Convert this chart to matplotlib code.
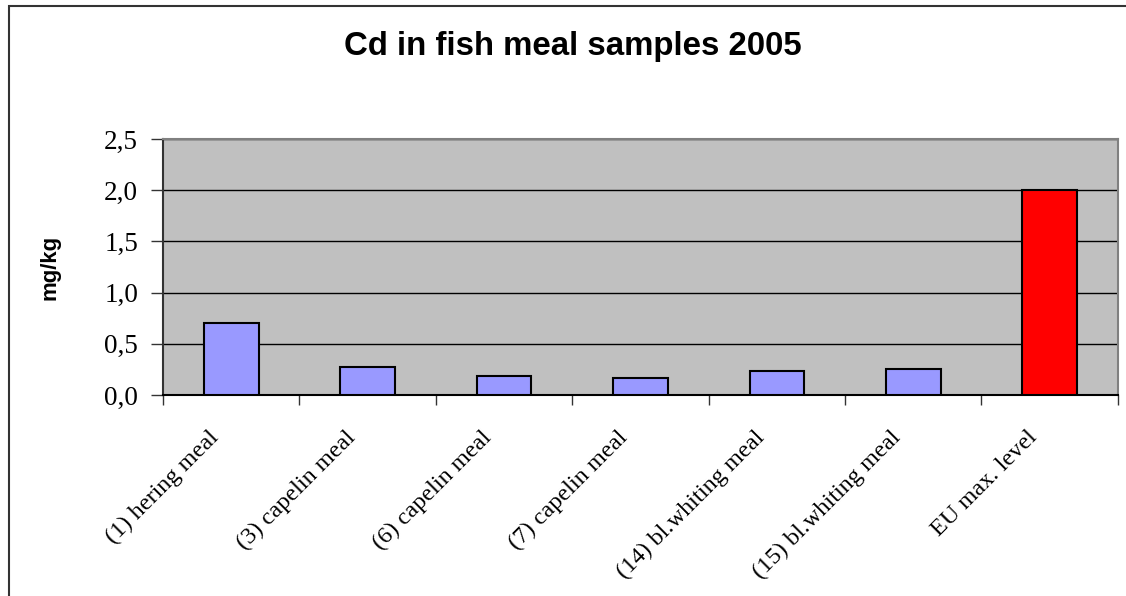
import matplotlib.pyplot as plt
from matplotlib.patches import Rectangle
from matplotlib.ticker import FuncFormatter, MultipleLocator

samples = [
    "(1) hering meal",
    "(3) capelin meal",
    "(6) capelin meal",
    "(7) capelin meal",
    "(14) bl.whiting meal",
    "(15) bl.whiting meal",
    "EU max. level",
]
cd_mg_kg = [0.70, 0.27, 0.19, 0.17, 0.23, 0.25, 2.0]
bar_colors = ["#9999FF"] * 6 + ["#FF0000"]

fig = plt.figure(figsize=(11.26, 5.96), dpi=100)
ax = fig.add_axes([0.1448, 0.3372, 0.848, 0.4295])

# chart-area frame (runs off the right and bottom edges)
fig.patches.append(Rectangle((9 / 1126, -0.05), 1.2, 1 - 6 / 596 + 0.05,
                             transform=fig.transFigure, fill=False,
                             edgecolor="#333333", linewidth=1.5))

ax.set_facecolor("#C0C0C0")
x = range(len(samples))
ax.bar(x, cd_mg_kg, width=0.4, color=bar_colors, edgecolor="black",
       linewidth=1.5, zorder=3)

ax.set_xlim(-0.5, len(samples) - 0.5)
ax.set_ylim(0, 2.5)
ax.yaxis.set_major_locator(MultipleLocator(0.5))
ax.yaxis.set_major_formatter(FuncFormatter(lambda v, p: f"{v:.1f}".replace(".", ",")))
ax.grid(axis="y", color="black", linewidth=1, zorder=1)

# category separators as ticks between bars
ax.set_xticks([i - 0.5 for i in range(len(samples) + 1)])
ax.set_xticklabels([])
ax.tick_params(axis="x", length=7, width=1, color="#333333")
ax.tick_params(axis="y", length=9, width=1, color="#333333", pad=9)
for lab in ax.get_yticklabels():
    lab.set_fontfamily("Liberation Serif")
    lab.set_fontsize(19.5)

for i, name in enumerate(samples):
    ax.text(i - 0.17, -0.31, name, rotation=45, ha="right", va="top",
            rotation_mode="anchor", family="Liberation Serif", fontsize=17.5,
            transform=ax.transData, clip_on=False)

ax.spines["top"].set_color("#808080")
ax.spines["right"].set_color("#808080")
ax.spines["left"].set_color("#333333")
ax.spines["bottom"].set_color("black")
for s in ax.spines.values():
    s.set_linewidth(1.5)

ax.set_ylabel("mg/kg", family="Liberation Sans", fontweight="bold",
              fontsize=16)
ax.yaxis.set_label_coords(-0.107, 0.5)
fig.text(573 / 1126, 1 - 47 / 596, "Cd in fish meal samples 2005", ha="center",
         va="center", family="Liberation Sans", fontweight="bold", fontsize=23.8)

fig.savefig("out.png", dpi=100)
